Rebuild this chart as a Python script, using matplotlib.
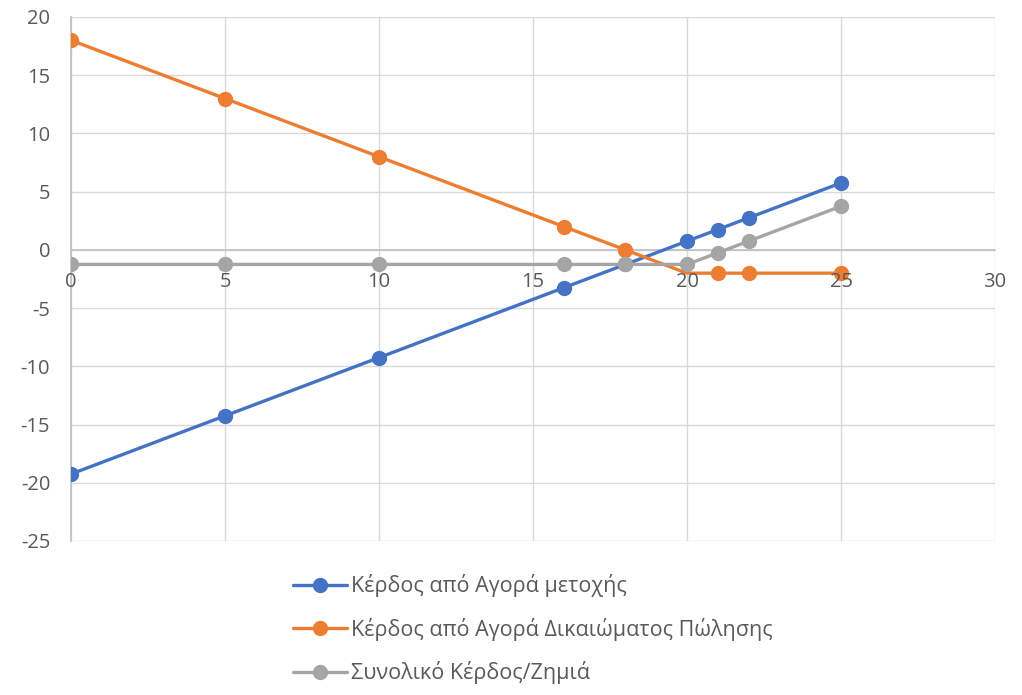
import matplotlib
matplotlib.use("Agg")
import matplotlib.pyplot as plt
from matplotlib.lines import Line2D

# Share price at expiry and profit of each position
prices = [0, 5, 10, 16, 18, 20, 21, 22, 25]
stock_profit = [-19.25, -14.25, -9.25, -3.25, -1.25, 0.75, 1.75, 2.75, 5.75]
put_profit = [18, 13, 8, 2, 0, -2, -2, -2, -2]
total_profit = [-1.25, -1.25, -1.25, -1.25, -1.25, -1.25, -0.25, 0.75, 3.75]

labels = ["Κέρδος από Αγορά μετοχής",
          "Κέρδος από Αγορά Δικαιώματος Πώλησης",
          "Συνολικό Κέρδος/Ζημιά"]
colors = ["#4472C4", "#ED7D31", "#A5A5A5"]
x_ticks = [0, 5, 10, 15, 20, 25, 30]
y_ticks = [-25, -20, -15, -10, -5, 0, 5, 10, 15, 20]

plt.rcParams['font.family'] = ['Open Sans', 'DejaVu Sans']
plt.rcParams['axes.unicode_minus'] = False
text_color = "#595959"

fig = plt.figure(figsize=(10.22, 6.95), dpi=100)
ax = fig.add_axes([71 / 1022, 1 - 541 / 695, (995 - 71) / 1022, (541 - 17) / 695])

style = dict(lw=2.4, marker='o', markersize=10, solid_capstyle='round')

# markers shown per series (the put's marker at the strike is left out)
all_points = list(range(len(prices)))
marker_points = [all_points,
                 [i for i in all_points if prices[i] != 20],
                 all_points]
for ys, col, mk in zip([stock_profit, put_profit, total_profit], colors, marker_points):
    ax.plot(prices, ys, color=col, markevery=mk, zorder=3, **style)

ax.set_xlim(0, 30)
ax.set_ylim(-25, 20)
ax.set_xticks(x_ticks)
ax.set_yticks(y_ticks)
ax.set_xticklabels([])
ax.grid(True, color="#D9D9D9", lw=1)
ax.set_axisbelow(True)

for s in ['top', 'right']:
    ax.spines[s].set_visible(False)
ax.spines['bottom'].set_position(('data', 0))
ax.spines['bottom'].set_color("#BFBFBF")
ax.spines['left'].set_color("#BFBFBF")
ax.spines['bottom'].set_linewidth(1.2)
ax.spines['left'].set_linewidth(1.2)

ax.tick_params(axis='both', length=0, labelsize=14.5, labelcolor=text_color)
ax.tick_params(axis='y', pad=15)

# Category labels sit under the zero line, drawn over the series
for xv in x_ticks:
    ax.annotate(str(xv), xy=(xv, 0), xytext=(0, -23), textcoords='offset points',
                ha='center', va='center', fontsize=14.5, color=text_color, zorder=5,
                annotation_clip=False)

handles = [Line2D([], [], color=c, **style) for c in colors]
ax.legend(handles, labels, loc='upper center', bbox_to_anchor=(0.5, -0.035),
          frameon=False, fontsize=15.5, labelcolor=text_color,
          handlelength=2.5, labelspacing=0.95, handletextpad=0.2,
          borderaxespad=0.3)

fig.savefig("out.png", dpi=100)
